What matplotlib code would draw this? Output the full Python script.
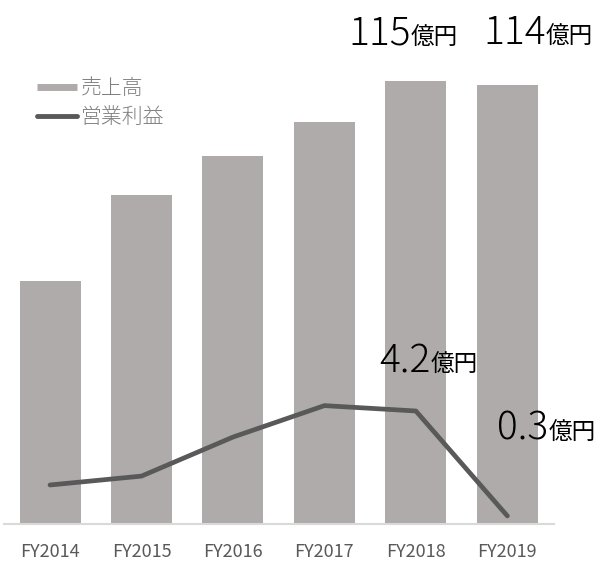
import numpy as np
import matplotlib
matplotlib.use("Agg")
import matplotlib.pyplot as plt
from matplotlib.lines import Line2D

plt.rcParams['font.family'] = ['Noto Sans CJK JP', 'DejaVu Sans']

# data
years = ["FY2014", "FY2015", "FY2016", "FY2017", "FY2018", "FY2019"]
sales = [63, 85.4, 95.5, 104.4, 115, 114]      # 売上高 (億円)
profit = [1.45, 1.78, 3.23, 4.4, 4.2, 0.3]     # 営業利益 (億円)

bar_col = "#AFABAB"
line_col = "#595959"

fig = plt.figure(figsize=(6, 5.61), dpi=100)
W, H = 600, 561
left, right, bottom, top = 4, 554, 524, 60
ax = fig.add_axes([left / W, (H - bottom) / H, (right - left) / W, (bottom - top) / H])
ax2 = ax.twinx()

x = np.arange(len(years))
ax.bar(x, sales, width=0.667, color=bar_col, zorder=2)
ax2.plot(x, profit, color=line_col, lw=3.4, solid_capstyle='round')

ax.set_xlim(-0.503, 5.51)
ax.set_ylim(0, 115 * (bottom - top) / 443)
ax2.set_ylim(0, 4.2 * (bottom - top) / 113)

for a in (ax, ax2):
    for s in a.spines.values():
        s.set_visible(False)
    a.set_yticks([])
ax.spines['bottom'].set_visible(True)
ax.spines['bottom'].set_color("#D9D9D9")
ax.spines['bottom'].set_linewidth(1.5)
ax.set_xticks(x)
ax.set_xticklabels(years, fontsize=13, color=line_col)
ax.tick_params(axis='x', length=0, pad=14)


def label(a, xv, yv, num, dx, dy):
    # big number + small unit, joined at one point (offsets in pt)
    a.annotate(num, (xv, yv), xytext=(dx, dy), textcoords='offset points',
               ha='right', va='baseline', fontsize=28, fontweight='light',
               color='black', annotation_clip=False)
    a.annotate("億円", (xv, yv), xytext=(dx, dy), textcoords='offset points',
               ha='left', va='baseline', fontsize=17, color='black', annotation_clip=False)


label(ax, 4, sales[4], "115", -3.6, 26)
label(ax, 5, sales[5], "114", 27.4, 29.5)
label(ax2, 4, profit[4], "4.2", 10.8, 28)
label(ax2, 5, profit[5], "0.3", 29.5, 54.7)

handles = [Line2D([], [], color=bar_col, lw=5, solid_capstyle='butt'),
           Line2D([], [], color=line_col, lw=3.5, solid_capstyle='round')]
fig.legend(handles, ["売上高", "営業利益"], loc='upper left',
           bbox_to_anchor=(37 / W, 1 - 77 / H), borderpad=0, borderaxespad=0,
           frameon=False, labelcolor="#7F7F7F", handlelength=1.9,
           handletextpad=0.2, labelspacing=0.35, prop={'weight': 'light', 'size': 15})

fig.savefig("out.png", dpi=100)
